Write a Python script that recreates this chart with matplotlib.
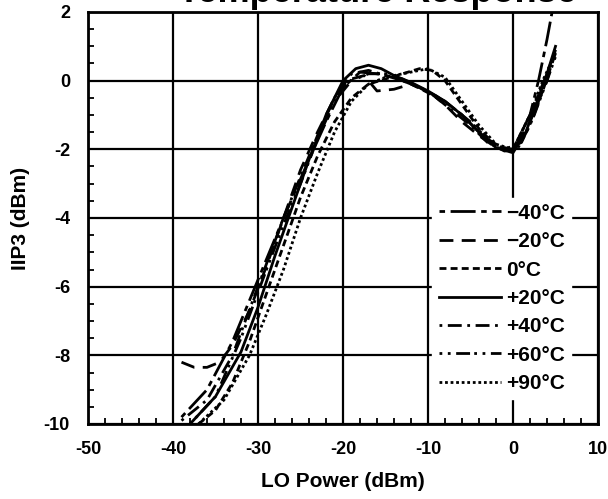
import numpy as np
import matplotlib
matplotlib.use('Agg')
import matplotlib.pyplot as plt
from matplotlib.ticker import MultipleLocator

plt.rcParams['font.family'] = ['Liberation Sans', 'DejaVu Sans']
plt.rcParams['font.weight'] = 'bold'
plt.rcParams['axes.unicode_minus'] = False

# IIP3 vs LO power curves, one per temperature
labels = ['\u221240\u00b0C', '\u221220\u00b0C', '0\u00b0C', '+20\u00b0C', '+40\u00b0C', '+60\u00b0C', '+90\u00b0C']

x_m40 = [-39, -36, -33, -30, -27, -24, -22, -20, -18, -16, -14, -12, -10, -8, -6, -4, -2, 0, 2, 3, 4, 4.6]
y_m40 = [-9.8, -9.0, -7.6, -5.8, -4.0, -2.3, -1.2, -0.2, 0.25, 0.2, 0.1, -0.1, -0.35, -0.6, -1.0, -1.5, -1.95, -2.0, -1.0, 0.0, 1.2, 2.0]

x_m20 = [-39, -37.5, -36, -34.5, -33, -31, -29, -27, -25, -23, -21, -19, -17.5, -16, -14, -12, -10, -8, -6, -4, -2, 0, 2, 4, 5]
y_m20 = [-8.2, -8.35, -8.35, -8.2, -7.7, -6.7, -5.4, -4.0, -2.6, -1.5, -0.5, 0.05, 0.15, -0.3, -0.25, -0.1, -0.3, -0.7, -1.2, -1.6, -1.95, -2.05, -1.2, 0.0, 0.9]

x_0 = [-37, -35, -33, -31, -29, -27, -25, -23, -21, -19, -17, -15, -13, -11, -9.5, -8, -6, -4, -2, 0, 2, 4, 5]
y_0 = [-10, -9.6, -8.8, -7.6, -6.2, -4.8, -3.4, -2.2, -1.2, -0.5, -0.1, 0.05, 0.2, 0.35, 0.3, 0.0, -0.7, -1.4, -1.9, -2.0, -1.0, 0.2, 0.9]

x_p20 = [-38, -35, -32, -30, -28, -26, -24, -22, -20, -18.5, -17, -15.5, -14, -12, -10, -8, -6, -4, -2, 0, 1.5, 3, 4, 5]
y_p20 = [-10, -9.2, -7.9, -6.6, -5.1, -3.7, -2.3, -1.0, 0.0, 0.35, 0.45, 0.35, 0.15, -0.05, -0.3, -0.6, -1.0, -1.5, -1.95, -2.1, -1.5, -0.5, 0.2, 1.0]

x_p40 = [-39, -36, -33, -30, -27, -25, -23, -21, -19, -17, -15, -13, -11, -9, -7, -5, -3, -1, 0.5, 2, 3.5, 5]
y_p40 = [-9.9, -9.3, -8.0, -6.0, -4.0, -2.8, -1.6, -0.5, 0.2, 0.3, 0.15, 0.0, -0.2, -0.5, -0.9, -1.3, -1.8, -2.05, -2.0, -1.3, -0.3, 0.8]

x_p60 = [-38, -35, -32, -29, -27, -25, -23, -21, -19, -17, -15, -13, -11, -9, -7, -5, -3, -1, 1, 2.5, 4, 5]
y_p60 = [-10, -9.2, -7.5, -5.5, -4.2, -3.0, -1.7, -0.6, 0.0, 0.2, 0.2, 0.05, -0.2, -0.45, -0.8, -1.2, -1.7, -2.0, -1.8, -1.0, 0.0, 0.7]

x_p90 = [-37, -34, -31, -29, -27, -25, -23, -21, -19, -17, -15, -13, -11, -10, -8, -6, -4, -2, 0, 2, 3.5, 5]
y_p90 = [-10, -9.3, -8.0, -6.8, -5.5, -4.0, -2.7, -1.5, -0.6, -0.1, 0.1, 0.2, 0.3, 0.35, 0.1, -0.6, -1.3, -1.85, -2.0, -1.0, 0.0, 0.8]

xs = [x_m40, x_m20, x_0, x_p20, x_p40, x_p60, x_p90]
ys = [y_m40, y_m20, y_0, y_p20, y_p40, y_p60, y_p90]
dashes = [(2, 2, 9, 2), (5, 3), (2.5, 1.5), None, (1, 2, 5, 2), (1, 2, 1, 2, 5, 1.5), (1, 1)]

fig = plt.figure(figsize=(6.08, 4.99), dpi=100)
ax = fig.add_axes([88/608, 1 - 424/499, 510/608, 412/499])

for x, y, d, lab in zip(xs, ys, dashes, labels):
    if d is None:
        ax.plot(x, y, color='black', lw=2, label=lab, ls='-')
    else:
        ax.plot(x, y, color='black', lw=2, label=lab, dashes=d)

ax.set_xlim(-50, 10)
ax.set_ylim(-10, 2)
ax.xaxis.set_major_locator(MultipleLocator(10))
ax.yaxis.set_major_locator(MultipleLocator(2))
ax.xaxis.set_minor_locator(MultipleLocator(2))
ax.yaxis.set_minor_locator(MultipleLocator(0.5))
ax.grid(True, which='major', color='black', lw=1.6)
ax.tick_params(which='major', length=0, labelsize=13)
ax.tick_params(axis='x', which='major', pad=12)
ax.tick_params(axis='y', which='major', pad=13)
ax.tick_params(which='minor', direction='in', length=4, width=1.3)
for s in ax.spines.values():
    s.set_linewidth(2)
for t in ax.get_xticklabels() + ax.get_yticklabels():
    t.set_fontweight('heavy')

ax.set_xlabel('LO Power (dBm)', fontsize=15, fontweight='heavy', labelpad=10)
ax.set_ylabel('IIP3 (dBm)', fontsize=15, fontweight='heavy', labelpad=10)

leg = ax.legend(loc='lower left', bbox_to_anchor=(0.675, 0.06), frameon=True, fancybox=False,
                edgecolor='white', framealpha=1, fontsize=15, handlelength=3.0,
                handletextpad=0.25, labelspacing=0.45, borderpad=0.3, borderaxespad=0)
for t in leg.get_texts():
    t.set_fontweight('heavy')

fig.text(0.62, 0.995, 'Temperature Response', ha='center', va='baseline', fontsize=26, fontweight='heavy')

fig.savefig('out.png', dpi=100)
